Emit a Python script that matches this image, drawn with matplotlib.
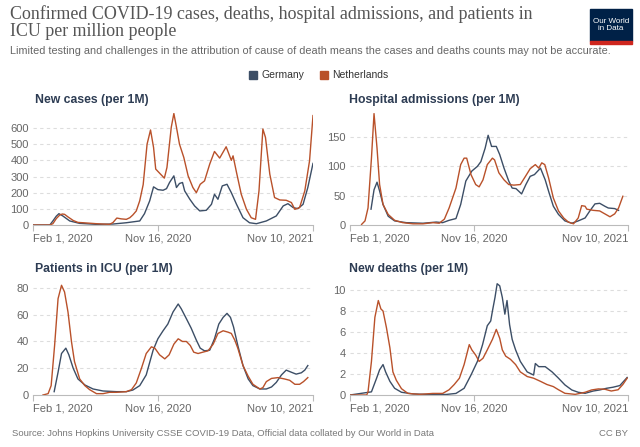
import matplotlib
matplotlib.use("Agg")
import matplotlib.pyplot as plt
from matplotlib.patches import Rectangle
import pandas as pd

# ---------------- data (x = days since Feb 1, 2020) ----------------
START = pd.Timestamp("2020-02-01")
END = pd.Timestamp("2021-11-10")
countries = ["Germany", "Netherlands"]
tick_dates = ["2020-02-01", "2020-11-16", "2021-11-10"]
tick_labels = ["Feb 1, 2020", "Nov 16, 2020", "Nov 10, 2021"]

cases_nl_days = [0, 39, 46, 54, 62, 68, 73, 81, 93, 104, 116, 147, 177, 185, 194, 204, 216, 224, 231, 239,
                 247, 255, 264, 272, 279, 284, 295, 304, 310, 320, 326, 332, 339, 349, 359, 370, 378, 387,
                 397, 409, 420, 432, 444, 447, 455, 459, 463, 471, 482, 494, 505, 515, 523, 532, 538, 548,
                 559, 571, 586, 598, 606, 617, 629, 640, 648]
cases_nl = [0, 0, 8, 40, 62, 68, 66, 50, 28, 16, 14, 8, 4, 15, 43, 38, 35, 45, 62, 87,
            150, 250, 500, 588, 480, 346, 315, 290, 356, 605, 690, 605, 500, 418, 304, 232, 200, 252,
            273, 377, 455, 414, 470, 484, 428, 400, 428, 325, 190, 97, 45, 35, 211, 594, 542, 315,
            170, 155, 153, 139, 97, 108, 211, 397, 677]
cases_de_days = [0, 39, 46, 54, 60, 69, 85, 108, 147, 185, 216, 247, 258, 270, 279, 289, 301, 309, 316, 326,
                 332, 339, 346, 351, 363, 374, 386, 401, 413, 420, 428, 438, 449, 459, 471, 486, 501, 517,
                 540, 563, 579, 590, 602, 613, 625, 636, 648]
cases_de = [0, 0, 25, 55, 70, 56, 25, 10, 4, 6, 14, 25, 70, 149, 236, 219, 215, 225, 263, 304,
            232, 257, 263, 211, 159, 118, 87, 91, 128, 190, 159, 242, 252, 200, 128, 45, 14, 8,
            25, 56, 118, 132, 108, 101, 128, 232, 381]

hosp_nl_days = [27, 35, 42, 50, 56, 63, 69, 77, 89, 104, 123, 147, 170, 193, 208, 220, 231, 247, 258, 266,
                272, 282, 293, 301, 310, 320, 332, 337, 347, 359, 370, 382, 397, 409, 420, 432, 440, 447,
                454, 463, 474, 486, 498, 509, 521, 532, 540, 548, 552, 567, 582, 594, 606, 617, 626, 636]
hosp_nl = [1, 7, 29, 114, 190, 131, 69, 35, 18, 8, 4, 2, 2, 4, 3, 10, 29, 63, 103, 114,
           114, 86, 69, 65, 77, 103, 114, 111, 89, 77, 69, 68, 69, 83, 96, 103, 97, 106,
           103, 80, 46, 24, 12, 5, 2, 12, 33, 32, 27, 25, 24, 19, 14, 19, 29, 49]
hosp_de_days = [49, 56, 63, 69, 77, 89, 104, 131, 170, 201, 216, 231, 247, 258, 270, 284, 297, 305, 315, 322,
                330, 341, 349, 359, 370, 378, 387, 400, 410, 420, 430, 444, 455, 464, 474, 486, 501, 517,
                532, 548, 559, 571, 582, 594, 602, 617, 626]
hosp_de = [27, 60, 73, 58, 35, 15, 7, 4, 3, 5, 4, 8, 11, 35, 75, 92, 100, 108, 131, 153,
           134, 134, 120, 97, 75, 63, 62, 53, 69, 83, 86, 97, 77, 55, 32, 18, 7, 3,
           7, 12, 24, 36, 37, 32, 29, 28, 25]

icu_nl_days = [23, 35, 42, 50, 58, 66, 73, 81, 89, 96, 108, 120, 131, 147, 162, 177, 193, 216, 228, 239,
               251, 262, 274, 282, 293, 305, 315, 326, 336, 346, 355, 364, 372, 382, 393, 405, 417, 428,
               440, 451, 459, 467, 474, 486, 498, 509, 525, 532, 540, 552, 567, 582, 594, 606, 617, 626, 636]
icu_nl = [0, 1, 7, 37, 72, 82, 77, 62, 40, 25, 12, 7, 4, 1, 1, 2, 2, 2.5, 4, 9,
          20, 31, 36, 35, 30, 27, 30, 38, 42, 40, 40, 37, 32, 31, 32, 33, 38, 46,
          48, 47, 46, 41, 35, 22, 14, 8, 4.5, 5.5, 10, 12.4, 13, 12, 11, 8, 8, 10, 13]
icu_de_days = [49, 58, 66, 76, 83, 93, 104, 120, 139, 162, 193, 216, 231, 247, 262, 278, 289, 301, 312, 324,
               336, 343, 355, 366, 378, 387, 397, 409, 420, 430, 440, 449, 457, 464, 474, 486, 498, 509,
               525, 540, 552, 563, 575, 586, 598, 609, 621, 629, 636]
icu_de = [2.5, 17, 31, 35, 30, 20, 12, 7.5, 4.5, 3, 2.5, 2.5, 3.7, 7, 15, 33.5, 42, 48, 53, 62,
          68, 64.5, 57, 50, 41, 35, 33, 33.5, 42, 53, 58, 61, 58, 51, 37, 22, 12, 7,
          4.5, 4.5, 6, 9.4, 15, 18.6, 17, 15.6, 16.6, 18.6, 22]

deaths_nl_days = [0, 39, 42, 50, 58, 66, 72, 77, 85, 93, 100, 108, 120, 135, 162, 193, 216, 231, 243, 255,
                  266, 278, 284, 293, 301, 310, 320, 332, 341, 349, 355, 363, 374, 386, 397, 413, 428, 444,
                  459, 474, 486, 501, 525, 548, 563, 579, 594, 609, 625, 636, 646]
deaths_nl = [0, 0, 0.3, 3.2, 7.4, 9.0, 8.2, 8.0, 6.4, 4.5, 2.2, 1.4, 0.6, 0.15, 0.06, 0.15, 0.15, 0.5, 1.0, 1.6,
             2.9, 4.8, 4.3, 3.8, 3.2, 3.5, 4.3, 5.3, 6.25, 5.4, 4.3, 3.7, 3.4, 2.9, 2.2, 1.76, 1.6, 1.3,
             1.0, 0.8, 0.5, 0.16, 0.06, 0.26, 0.48, 0.58, 0.55, 0.38, 0.5, 1.0, 1.6]
deaths_de_days = [0, 50, 62, 69, 77, 83, 93, 104, 120, 147, 185, 224, 247, 266, 282, 297, 309, 320, 328, 332,
                  338, 343, 349, 355, 361, 366, 372, 378, 386, 397, 413, 428, 432, 440, 455, 471, 486, 501,
                  517, 532, 548, 567, 582, 598, 613, 629, 646]
deaths_de = [0, 0.3, 1.6, 2.4, 2.9, 2.2, 1.3, 0.64, 0.26, 0.1, 0.05, 0.05, 0.15, 0.64, 1.9, 3.2, 4.8, 6.6, 7.05, 8.0,
             9.3, 10.6, 10.4, 9.3, 7.7, 9.0, 6.7, 5.3, 4.3, 3.2, 2.2, 1.9, 3.0, 2.7, 2.7, 2.2, 1.6, 0.96,
             0.48, 0.26, 0.16, 0.38, 0.48, 0.64, 0.74, 0.9, 1.67]

panel_titles = ["New cases (per 1M)", "Hospital admissions (per 1M)",
                "Patients in ICU (per 1M)", "New deaths (per 1M)"]
yticks = [[0, 100, 200, 300, 400, 500, 600], [0, 50, 100, 150],
          [0, 20, 40, 60, 80], [0, 2, 4, 6, 8, 10]]
ymax = [693, 191, 83.7, 10.67]

# ---------------- styling ----------------
C_DE = "#3c4e66"
C_NL = "#b9512a"
TXT = "#666666"
W, H = 640, 447

plt.rcParams["font.family"] = ["Liberation Sans", "DejaVu Sans"]
fig = plt.figure(figsize=(W / 100, H / 100), dpi=100)

def fx(px):
    return px / W

def fy(py):
    return 1 - py / H

series = [
    ((cases_de_days, cases_de), (cases_nl_days, cases_nl)),
    ((hosp_de_days, hosp_de), (hosp_nl_days, hosp_nl)),
    ((icu_de_days, icu_de), (icu_nl_days, icu_nl)),
    ((deaths_de_days, deaths_de), (deaths_nl_days, deaths_nl)),
]
# axes boxes in pixels: left, top, right, bottom
boxes = [(33, 113, 313, 225), (350, 113, 628, 225),
         (33, 283, 313, 395), (350, 283, 628, 395)]
title_pos = [(35, 100), (349, 100), (35, 269), (349, 269)]

xt = [(pd.Timestamp(d) - START).days for d in tick_dates]
xmax = (END - START).days

for i in range(4):
    l, t, r, b = boxes[i]
    ax = fig.add_axes([fx(l), fy(b), fx(r - l), (b - t) / H])
    (dd, dv), (nd, nv) = series[i]
    ax.plot(dd, dv, color=C_DE, lw=1.0, solid_joinstyle="round")
    ax.plot(nd, nv, color=C_NL, lw=1.0, solid_joinstyle="round")
    ax.set_xlim(0, xmax)
    ax.set_ylim(0, ymax[i])
    ax.set_yticks(yticks[i])
    ax.set_yticklabels([str(v) for v in yticks[i]])
    ax.set_xticks(xt)
    labs = ax.set_xticklabels(tick_labels)
    labs[0].set_ha("left")
    labs[1].set_ha("center")
    labs[2].set_ha("right")
    for s in ["top", "right", "left"]:
        ax.spines[s].set_visible(False)
    ax.spines["bottom"].set_color("#bbbbbb")
    ax.spines["bottom"].set_linewidth(0.8)
    ax.tick_params(axis="y", length=0, pad=3, labelsize=8, labelcolor=TXT)
    ax.tick_params(axis="x", length=4, width=0.8, color="#bbbbbb", pad=2,
                   labelsize=8, labelcolor=TXT)
    for v in yticks[i][1:]:
        ax.axhline(v, color="#dddddd", lw=0.8, ls=(0, (3, 3)), zorder=0)
    ax.set_facecolor("none")
    tx, ty = title_pos[i]
    fig.text(fx(tx), fy(ty), panel_titles[i], fontsize=8.8, fontweight="bold",
             color="#2d3c53", va="center", ha="left")

# titles
fig.text(fx(10), fy(5), "Confirmed COVID-19 cases, deaths, hospital admissions, and patients in\nICU per million people",
         family=["Liberation Serif", "DejaVu Serif"], fontsize=12.9, color="#555555",
         va="top", ha="left", linespacing=1.0)
fig.text(fx(10), fy(51), "Limited testing and challenges in the attribution of cause of death means the cases and deaths counts may not be accurate.",
         fontsize=7.8, color=TXT, va="center", ha="left")

# legend
leg_x = [249, 320]
leg_cols = [C_DE, C_NL]
for k, name in enumerate(countries):
    fig.patches.append(Rectangle((fx(leg_x[k]), fy(79)), 8 / W, 8 / H,
                                 transform=fig.transFigure, color=leg_cols[k], figure=fig))
    fig.text(fx(leg_x[k] + 12), fy(75), name, fontsize=7.5, color="#333333",
             va="center", ha="left")

# logo
fig.patches.append(Rectangle((fx(590), fy(41)), 42 / W, 32 / H, transform=fig.transFigure,
                             color="#002147", figure=fig))
fig.patches.append(Rectangle((fx(590), fy(44)), 42 / W, 3 / H, transform=fig.transFigure,
                             color="#ce261e", figure=fig))
fig.text(fx(611), fy(25), "Our World\nin Data", fontsize=5.8, color="white",
         ha="center", va="center", linespacing=1.0)

# footer
fig.text(fx(12), fy(434), "Source: Johns Hopkins University CSSE COVID-19 Data, Official data collated by Our World in Data",
         fontsize=6.8, color="#777777", va="center", ha="left")
fig.text(fx(628), fy(434), "CC BY", fontsize=6.8, color="#777777", va="center", ha="right")

fig.savefig("out.png", dpi=100)
